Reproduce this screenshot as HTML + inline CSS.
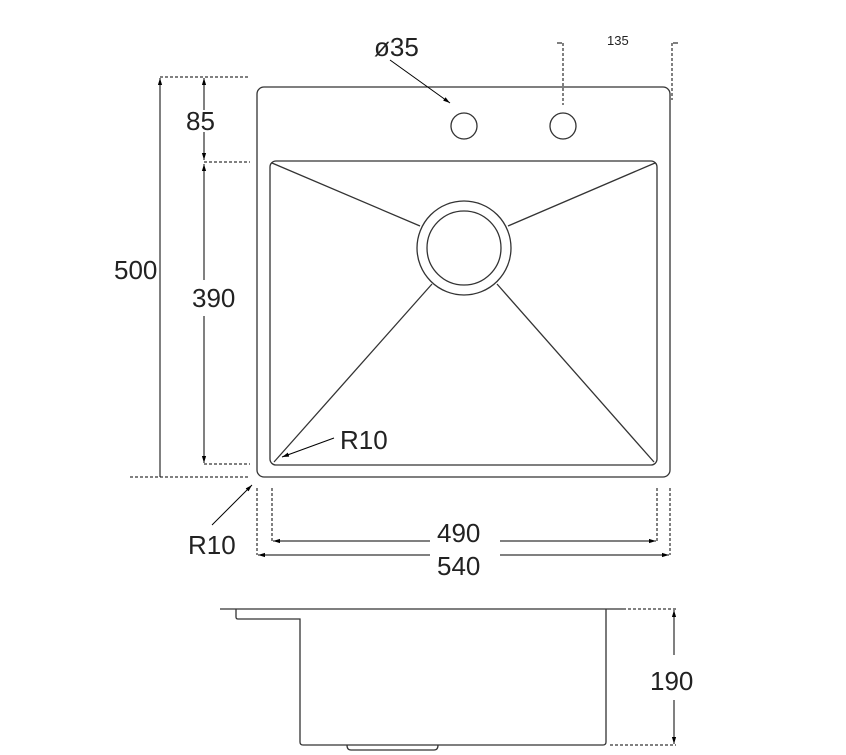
<!DOCTYPE html>
<html><head><style>body{margin:0;background:#fff}svg{display:block}</style></head><body>
<svg width="846" height="755" viewBox="0 0 846 755" xmlns="http://www.w3.org/2000/svg" font-family="Liberation Sans, sans-serif">
<defs><marker id="a" viewBox="0 0 10 10" refX="10" refY="5" markerWidth="7" markerHeight="7" orient="auto-start-reverse"><path d="M0,2L10,5L0,8z" fill="#000"/></marker></defs>
<g fill="none" stroke="#333" stroke-width="1.3">
<rect x="257" y="87" width="413" height="390" rx="7"/>
<rect x="270" y="161" width="387" height="304" rx="6"/>
<circle cx="464" cy="248" r="47"/><circle cx="464" cy="248" r="37"/>
<circle cx="464" cy="126" r="13"/><circle cx="563" cy="126" r="13"/>
<line x1="272" y1="163" x2="420" y2="226"/><line x1="655" y1="163" x2="508" y2="226"/>
<line x1="274" y1="462" x2="432" y2="284"/><line x1="654" y1="462" x2="497" y2="284"/>
<path d="M220 609H623M236 609v8q0 2 2 2H300V742q0 3 3 3H603q3 0 3-3V609M347 745q0 5 4 5H434q4 0 4-5"/>
</g>
<g stroke="#000" stroke-width="1" fill="none">
<line x1="160" y1="477" x2="160" y2="78" marker-end="url(#a)"/>
<line x1="204" y1="110" x2="204" y2="78" marker-end="url(#a)"/>
<line x1="204" y1="132" x2="204" y2="160" marker-end="url(#a)"/>
<line x1="204" y1="280" x2="204" y2="164" marker-end="url(#a)"/>
<line x1="204" y1="316" x2="204" y2="463" marker-end="url(#a)"/>
<line x1="430" y1="541" x2="273" y2="541" marker-end="url(#a)"/>
<line x1="500" y1="541" x2="656" y2="541" marker-end="url(#a)"/>
<line x1="430" y1="555" x2="258" y2="555" marker-end="url(#a)"/>
<line x1="500" y1="555" x2="669" y2="555" marker-end="url(#a)"/>
<line x1="674" y1="655" x2="674" y2="610" marker-end="url(#a)"/>
<line x1="674" y1="700" x2="674" y2="744" marker-end="url(#a)"/>
<line x1="390" y1="60" x2="450" y2="103" marker-end="url(#a)"/>
<line x1="334" y1="438" x2="282" y2="457" marker-end="url(#a)"/>
<line x1="212" y1="525" x2="252" y2="485" marker-end="url(#a)"/>
<path d="M557 43h5M673 43h5"/>
</g>
<g stroke="#000" stroke-width="1" stroke-dasharray="3,2" fill="none">
<path d="M160 77H248M130 477H250M204 162H250M204 464H250M272 488V541M657 488V541M257 488V555M670 488V555M623 609H676M610 745H676M563 43V105M672 43V100"/>
</g>
<g font-size="26" fill="#222">
<text x="374" y="56">ø35</text>
<text x="186" y="130">85</text>
<text x="114" y="279">500</text>
<text x="192" y="307">390</text>
<text x="340" y="449">R10</text>
<text x="188" y="554">R10</text>
<text x="437" y="542">490</text>
<text x="437" y="575">540</text>
<text x="650" y="690">190</text>
<text x="607" y="45" font-size="13">135</text>
</g>
</svg>
</body></html>
